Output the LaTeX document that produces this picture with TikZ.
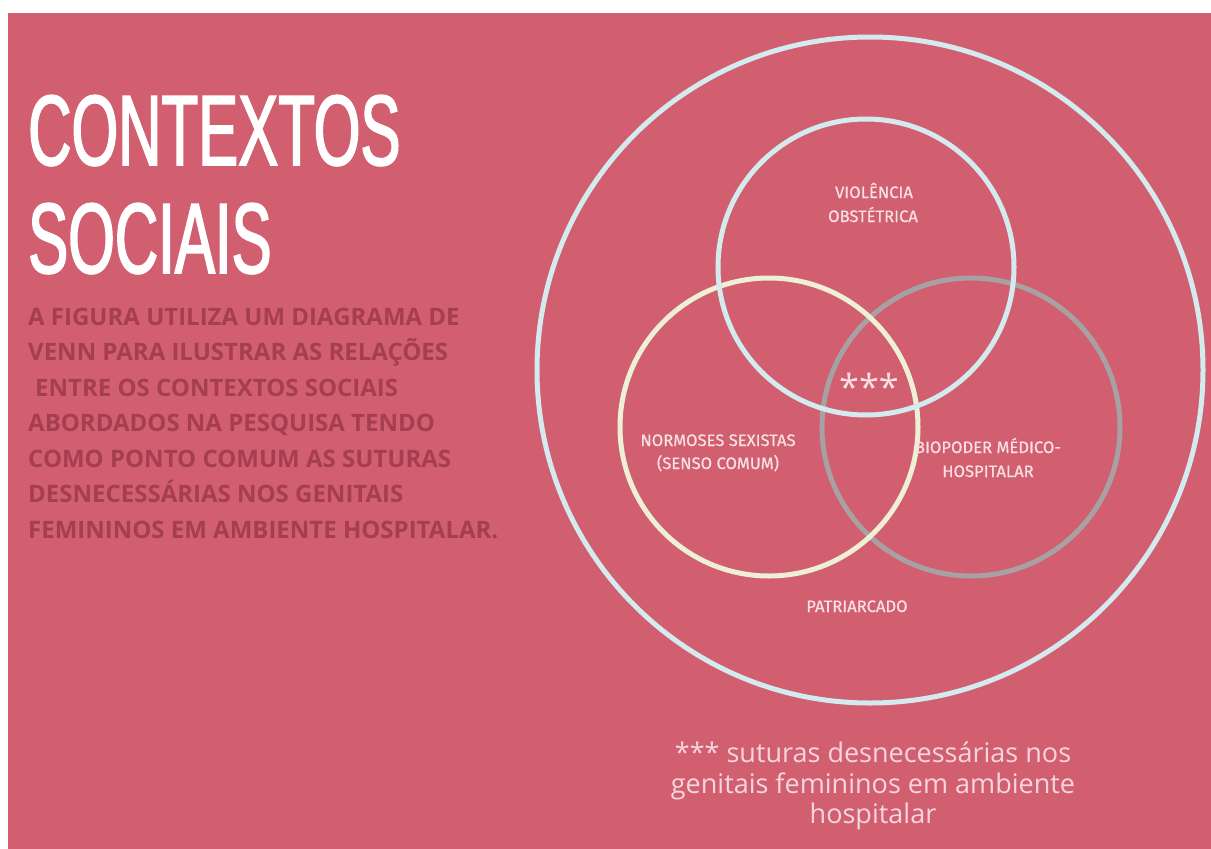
\documentclass[tikz,border=0pt]{standalone}
\usepackage{fontspec}
\setmainfont{Open Sans}
\newfontfamily\titlefont[FakeStretch=0.6,FakeBold=1.6]{Liberation Sans}
\newfontfamily\labelfont[FakeBold=0.6]{Fira Sans}
\definecolor{bg}{RGB}{210,95,112}
\definecolor{bodytxt}{RGB}{165,62,80}
\definecolor{lbltxt}{RGB}{248,224,229}
\definecolor{notetxt}{RGB}{246,214,221}
\definecolor{cyanring}{RGB}{211,235,238}
\definecolor{yellring}{RGB}{238,240,214}
\definecolor{grayring}{RGB}{167,161,164}
\begin{document}
\begin{tikzpicture}[x=1pt,y=-1pt,
  ring/.style={line width=5pt},
  title/.style={anchor=base west,inner sep=0pt,text=white,font=\titlefont\fontsize{100}{100}\selectfont},
  bodyline/.style={anchor=base west,inner sep=0pt,text=bodytxt,font=\fontsize{24}{24}\selectfont\bfseries},
  vlabel/.style={anchor=base,inner sep=0pt,text=lbltxt,font=\labelfont\fontsize{16.6}{16.6}\selectfont},
  note/.style={anchor=base,inner sep=0pt,text=notetxt,font=\fontsize{27}{27}\selectfont}]
\useasboundingbox (0,0) rectangle (1211,849);
\fill[white] (0,0) rectangle (1211,849);
\fill[bg] (8,13) rectangle (1211,849);
% title
\node[title] (t1) at (28,165) {CONTEXTOS};
\node[title] (t2) at (28,273) {SOCIAIS};
% body
\node[bodyline] (b1) at (28,325) {A FIGURA UTILIZA UM DIAGRAMA DE};
\node[bodyline] (b2) at (28,360.5) {VENN PARA ILUSTRAR AS RELAÇÕES};
\node[bodyline] (b3) at (35,396) {ENTRE OS CONTEXTOS SOCIAIS};
\node[bodyline] (b4) at (28,431.5) {ABORDADOS NA PESQUISA TENDO};
\node[bodyline] (b5) at (28,467) {COMO PONTO COMUM AS SUTURAS};
\node[bodyline] (b6) at (28,502.5) {DESNECESSÁRIAS NOS GENITAIS};
\node[bodyline] (b7) at (28,538) {FEMININOS EM AMBIENTE HOSPITALAR.};
% rings
\draw[ring,cyanring] (870,370) circle[radius=333pt];
\draw[ring,grayring] (971,427) circle[radius=149pt];
\draw[ring,yellring] (769,427) circle[radius=149pt];
\draw[ring,cyanring] (866,267) circle[radius=148pt];
% labels
\node[vlabel] (v1) at (874,198) {VIOLÊNCIA};
\node[vlabel] (v2) at (873,222) {OBSTÉTRICA};
\node[vlabel] (n1) at (718,446) {NORMOSES SEXISTAS};
\node[vlabel] (n2) at (718,469) {(SENSO COMUM)};
\node[vlabel] (p1) at (988,453) {BIOPODER MÉDICO-};
\node[vlabel] (p2) at (988,477) {HOSPITALAR};
\node[vlabel] (pa) at (857,612) {PATRIARCADO};
\node[anchor=base,inner sep=0pt,text=lbltxt,font=\fontsize{36}{36}\selectfont] (ast) at (869,400) {***};
% note
\node[note] (m1) at (873,762) {*** suturas desnecessárias nos};
\node[note] (m2) at (873,793) {genitais femininos em ambiente};
\node[note] (m3) at (873,823) {hospitalar};
\end{tikzpicture}
\end{document}
